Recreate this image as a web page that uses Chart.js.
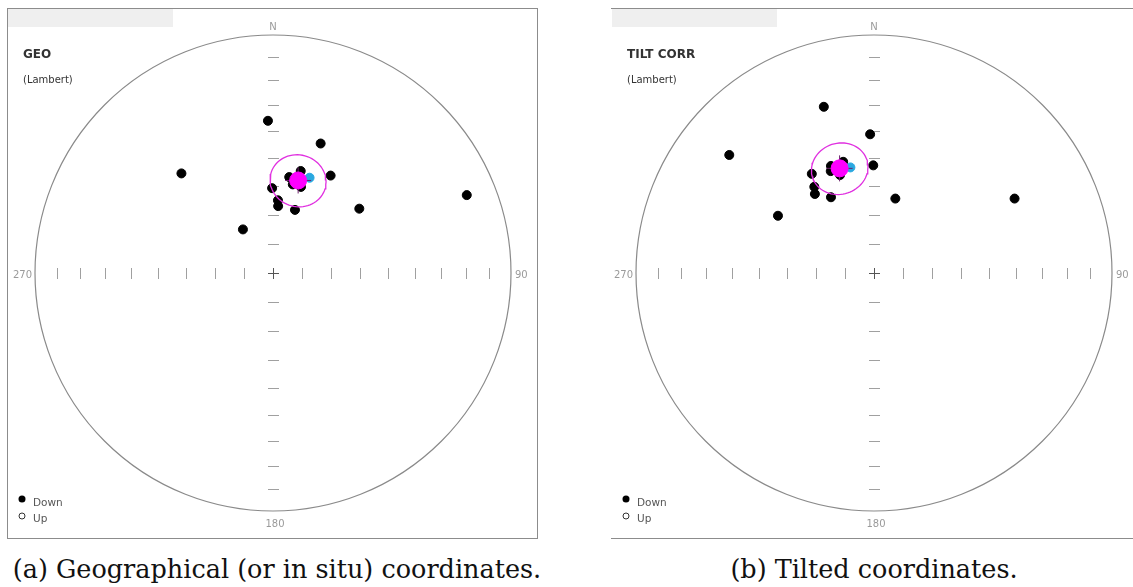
<!DOCTYPE html>
<html>
<head>
<meta charset="utf-8">
<script src="https://cdn.jsdelivr.net/npm/chart.js@4/dist/chart.umd.min.js"></script>
<style>
body{margin:0;background:#fff;width:1133px;height:587px;overflow:hidden;position:relative}
canvas{position:absolute;top:0}
#geo{left:0}
#tilt{left:560px}
.cap{position:absolute;top:553px;line-height:32px;font-family:"DejaVu Serif",serif;font-size:25.5px;color:#111;white-space:nowrap;transform:translateX(-50%)}
</style>
</head>
<body>
<canvas id="geo" width="550" height="545"></canvas>
<canvas id="tilt" width="573" height="545"></canvas>
<div class="cap" style="left:277px">(a) Geographical (or in situ) coordinates.</div>
<div class="cap" style="left:874px">(b) Tilted coordinates.</div>
<script>
// directions (declination, inclination in degrees, all lower hemisphere)
const geoDec = [358.1, 20.2, 317.4, 30.6, 68.1, 53.3, 325.4, 359.4, 3.9, 4.4, 19.2, 9.6, 15.2, 18.0, 12.6];
const geoInc = [36.2, 41.6, 42.6, 50.7, 13.3, 52.7, 71.9, 60.8, 65.0, 67.0, 67.1, 56.4, 53.4, 58.8, 58.7];
const tiltDec = [343.2, 358.4, 309.2, 359.6, 327.9, 325.3, 323.2, 330.4, 16.0, 62.1, 300.8, 338.1, 344.5, 337.0, 340.9];
const tiltInc = [27.9, 41.3, 22.6, 52.7, 49.3, 53.7, 55.9, 60.0, 63.4, 33.6, 51.2, 49.9, 49.9, 51.6, 54.1];

// fisher mean + a95 for [geo, tilt], and the small cyan direction
const meanDec = [15.2, 341.8];
const meanInc = [56.9, 51.8];
const meanA95 = [9.2, 9.2];
const altDec = [21.0, 347.4];
const altInc = [54.7, 52.5];

const tickInc = [80, 70, 60, 50, 40, 30, 20, 10];
const dirLabels = ['N', '90', '180', '270'];

function rad(a) { return a * Math.PI / 180; }
function deg(a) { return a * 180 / Math.PI; }

// Lambert equal area
function project(dec, inc) {
  var r = Math.sqrt(1 - Math.sin(rad(Math.abs(inc))));
  return { x: r * Math.sin(rad(dec)), y: r * Math.cos(rad(dec)) };
}

function cone(dec, inc, a95) {
  var D = rad(dec), I = rad(inc), a = rad(a95);
  var m = [Math.cos(I) * Math.cos(D), Math.cos(I) * Math.sin(D), Math.sin(I)];
  var u = [-Math.sin(I) * Math.cos(D), -Math.sin(I) * Math.sin(D), Math.cos(I)];
  var v = [-Math.sin(D), Math.cos(D), 0];
  var pts = [];
  for (var t = 0; t <= 360; t += 5) {
    var c = Math.cos(rad(t)), s = Math.sin(rad(t));
    var p = [0, 1, 2].map(k => m[k] * Math.cos(a) + (u[k] * c + v[k] * s) * Math.sin(a));
    pts.push(project(deg(Math.atan2(p[1], p[0])), deg(Math.asin(p[2]))));
  }
  return pts;
}

function line(ctx, x1, y1, x2, y2) {
  ctx.beginPath(); ctx.moveTo(x1, y1); ctx.lineTo(x2, y2); ctx.stroke();
}

const stereoDeco = {
  id: 'stereoDeco',
  beforeDatasetsDraw(chart, args, opts) {
    const ctx = chart.ctx;
    const xs = chart.scales.x, ys = chart.scales.y;
    const cx = xs.getPixelForValue(0), cy = ys.getPixelForValue(0);
    const R = xs.getPixelForValue(1) - cx;
    const L = opts.left;
    ctx.save();

    // frame
    ctx.strokeStyle = '#8c8c8c';
    ctx.lineWidth = 1;
    if (opts.box) {
      ctx.strokeRect(L + 0.5, 8.5, opts.right - L, 530);
    } else {
      line(ctx, L, 8.5, opts.right, 8.5);
      line(ctx, L, 538.5, opts.right, 538.5);
    }
    ctx.fillStyle = '#efefef';
    ctx.fillRect(L + 1, 9, 165, 18);

    // net
    ctx.strokeStyle = '#8a8a8a';
    ctx.lineWidth = 1.2;
    ctx.beginPath();
    ctx.arc(cx, cy, R, 0, Math.PI * 2);
    ctx.stroke();

    ctx.strokeStyle = '#a0a0a0';
    ctx.lineWidth = 1;
    tickInc.forEach(function (inc) {
      var r = Math.sqrt(1 - Math.sin(rad(inc)));
      [-1, 1].forEach(function (s) {
        var px = Math.round(xs.getPixelForValue(s * r)) + 0.5;
        line(ctx, px, cy - 5, px, cy + 6);
        var py = Math.round(ys.getPixelForValue(s * r)) + 0.5;
        line(ctx, cx - 5, py, cx + 6, py);
      });
    });
    ctx.strokeStyle = '#555';
    line(ctx, cx - 5, cy + 0.5, cx + 6, cy + 0.5);
    line(ctx, cx + 0.5, cy - 5, cx + 0.5, cy + 6);

    ctx.fillStyle = '#9a9a9a';
    ctx.font = '10px "DejaVu Sans"';
    ctx.textBaseline = 'middle';
    ctx.textAlign = 'center';
    ctx.fillText(dirLabels[0], cx, cy - R - 8);
    ctx.fillText(dirLabels[2], cx + 2, cy + R + 13);
    ctx.textAlign = 'left';
    ctx.fillText(dirLabels[1], cx + R + 4, cy + 2);
    ctx.textAlign = 'right';
    ctx.fillText(dirLabels[3], cx - R - 3, cy + 2);

    // title
    ctx.textAlign = 'left';
    ctx.fillStyle = '#333';
    ctx.font = 'bold 12px "DejaVu Sans"';
    ctx.fillText(opts.title, L + 16, 55);
    ctx.font = '10px "DejaVu Sans"';
    ctx.fillText('(Lambert)', L + 16, 80);

    // legend
    ctx.fillStyle = '#000';
    ctx.beginPath(); ctx.arc(L + 15, 499, 3.5, 0, Math.PI * 2); ctx.fill();
    ctx.strokeStyle = '#333';
    ctx.beginPath(); ctx.arc(L + 15, 516, 3, 0, Math.PI * 2); ctx.stroke();
    ctx.fillStyle = '#555';
    ctx.font = '10.5px "DejaVu Sans"';
    ctx.fillText('Down', L + 26, 503);
    ctx.fillText('Up', L + 26, 519);
    ctx.restore();
  }
};

function makeChart(id, decs, incs, k, deco, pad) {
  var pts = decs.map((d, i) => project(d, incs[i]));
  var m = project(meanDec[k], meanInc[k]);
  return new Chart(document.getElementById(id), {
    type: 'scatter',
    data: {
      datasets: [
        { data: [m], pointRadius: 8.5, backgroundColor: '#ff00ff', borderColor: '#ff00ff', order: 0 },
        { data: [m], pointStyle: 'cross', pointRadius: 13, borderColor: '#6b1f6b', borderWidth: 1, order: 1 },
        { data: cone(meanDec[k], meanInc[k], meanA95[k]), showLine: true, pointRadius: 0,
          borderColor: '#e030e0', borderWidth: 1.3, order: 2 },
        { data: [project(altDec[k], altInc[k])], pointRadius: 4.5, backgroundColor: '#2aa8e0', borderColor: '#2aa8e0', order: 3 },
        { data: pts, pointRadius: 4.5, backgroundColor: '#000', borderColor: '#000', order: 4 }
      ]
    },
    options: {
      responsive: false,
      animation: false,
      devicePixelRatio: 1,
      layout: { padding: pad },
      scales: {
        x: { type: 'linear', min: -1, max: 1, display: false },
        y: { type: 'linear', min: -1, max: 1, display: false }
      },
      plugins: {
        legend: { display: false },
        tooltip: { enabled: false },
        stereoDeco: deco
      }
    },
    plugins: [stereoDeco]
  });
}

makeChart('geo', geoDec, geoInc, 0,
  { title: 'GEO', left: 7, right: 537, box: true },
  { left: 35, right: 39, top: 35, bottom: 34 });
makeChart('tilt', tiltDec, tiltInc, 1,
  { title: 'TILT CORR', left: 51, right: 573, box: false },
  { left: 76, right: 21, top: 35, bottom: 34 });
</script>
</body>
</html>
